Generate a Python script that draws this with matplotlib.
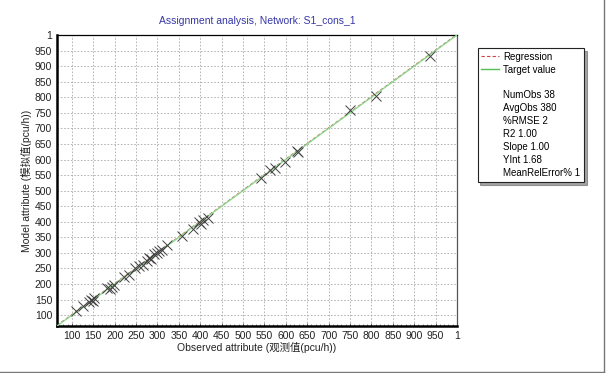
import matplotlib
matplotlib.use("Agg")
import matplotlib.pyplot as plt
from matplotlib.lines import Line2D
from matplotlib.ticker import MultipleLocator

plt.rcParams['font.family'] = ['Liberation Sans', 'Noto Sans CJK SC', 'DejaVu Sans']

# 观测值 / 模拟值 (pcu/h), 38 个观测点
observed = [109, 127, 141, 145, 149, 152, 182, 188, 193, 198, 221, 233, 248, 256,
            265, 276, 280, 284, 292, 298, 303, 311, 323, 358, 382, 398, 402, 406,
            417, 543, 563, 574, 598, 625, 629, 751, 810, 936]
modeled = [112, 130, 143, 150, 146, 155, 186, 183, 190, 197, 224, 230, 250, 258,
           262, 274, 283, 281, 295, 300, 306, 309, 326, 354, 378, 400, 392, 405,
           412, 540, 566, 572, 593, 627, 624, 758, 803, 934]

ticks = list(range(100, 1001, 50))
tick_labels = [str(t) for t in ticks[:-1]] + ['1']
stats = ['NumObs 38', 'AvgObs 380', '%RMSE 2', 'R2 1.00', 'Slope 1.00', 'YInt 1.68',
         'MeanRelError% 1']
slope, yint = 1.00, 1.68
lo, hi = 65, 1000

fig = plt.figure(figsize=(6.06, 3.73), dpi=100)
ax = fig.add_axes([0.094, 0.126, 0.66, 0.78])

ax.plot([lo, hi], [slope * lo + yint, slope * hi + yint], color='#cc4444', lw=0.8,
        ls=(0, (3, 2)), zorder=2)
ax.plot([lo, hi], [lo, hi], color='#8fd88f', lw=1.0, zorder=3)
ax.plot(observed, modeled, ls='none', marker='x', ms=7.5, mew=0.7,
        color='#404040', zorder=4)

ax.set_xlim(lo, hi)
ax.set_ylim(lo, hi)
ax.set_xticks(ticks)
ax.set_xticklabels(tick_labels)
ax.set_yticks(ticks)
ax.set_yticklabels(tick_labels)
ax.xaxis.set_minor_locator(MultipleLocator(10))
ax.tick_params(which='both', direction='in', labelsize=7.5, length=2, width=0.5,
               colors='#222222')
ax.tick_params(axis='x', which='minor', length=1.5, color='#666666')
ax.tick_params(axis='y', which='major', length=0)
ax.grid(True, which='major', color='#aaaaaa', ls=(0, (2, 2)), lw=0.6)
ax.set_axisbelow(True)

ax.spines['left'].set_linewidth(1.8)
ax.spines['bottom'].set_linewidth(1.8)
ax.spines['top'].set_linewidth(0.9)
ax.spines['right'].set_linewidth(0.9)
ax.spines['right'].set_color('#555555')

ax.set_title('Assignment analysis, Network: S1_cons_1', fontsize=7.5, color='#3636a8',
             pad=8)
ax.set_xlabel('Observed attribute (观测值(pcu/h))', fontsize=7.5, labelpad=1,
              color='#222222')
ax.set_ylabel('Model attribute (模拟值(pcu/h))', fontsize=7.5, labelpad=2,
              color='#222222')

handles = [Line2D([], [], color='#cc4444', lw=0.8, ls=(0, (3, 2))),
           Line2D([], [], color='#50c050', lw=1.0),
           Line2D([], [], ls='none')]
labels = ['Regression', 'Target value', '']
for s in stats:
    handles.append(Line2D([], [], ls='none'))
    labels.append(s)
leg = fig.legend(handles, labels, loc='upper left', bbox_to_anchor=(0.788, 0.872),
                 fontsize=7, frameon=True, fancybox=False, shadow=True,
                 handlelength=1.8, handletextpad=0.4, labelspacing=0.3,
                 borderpad=0.4, borderaxespad=0)
leg.get_frame().set_edgecolor('#222222')
leg.get_frame().set_linewidth(0.8)

# outer frame lines on right and bottom
fig.add_artist(Line2D([0.996, 0.996], [0.003, 1.0], transform=fig.transFigure,
                      color='#777777', lw=1.0))
fig.add_artist(Line2D([0.0, 0.996], [0.003, 0.003], transform=fig.transFigure,
                      color='#777777', lw=1.0))

fig.savefig('out.png', dpi=100)
